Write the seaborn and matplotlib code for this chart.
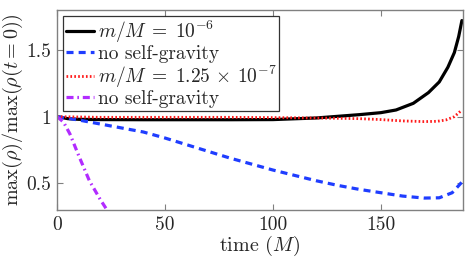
import matplotlib
matplotlib.use("Agg")
import matplotlib.pyplot as plt
import seaborn as sns
import numpy as np

# ---- data ----
t_black = [0, 5, 10, 20, 40, 60, 80, 100, 120, 140, 150, 157, 165, 172, 177, 181, 184, 186, 187.5]
v_black = [1.0, 0.985, 0.98, 0.978, 0.977, 0.977, 0.977, 0.978, 0.99, 1.015, 1.03, 1.05, 1.10, 1.18, 1.26, 1.37, 1.48, 1.60, 1.72]

t_blue = [0, 10, 20, 30, 40, 50, 60, 70, 80, 90, 100, 110, 120, 130, 140, 150, 160, 170, 177, 183, 187.5]
v_blue = [1.0, 0.975, 0.945, 0.915, 0.885, 0.84, 0.79, 0.74, 0.69, 0.645, 0.60, 0.56, 0.52, 0.485, 0.455, 0.43, 0.405, 0.39, 0.392, 0.43, 0.51]

t_red = [0, 20, 40, 60, 80, 100, 120, 140, 150, 160, 170, 176, 180, 184, 187.5]
v_red = [1.0, 0.995, 0.995, 0.995, 0.995, 0.993, 0.99, 0.985, 0.978, 0.968, 0.963, 0.965, 0.975, 1.0, 1.05]

t_mag = [0, 3, 6, 10, 15, 20, 24]
v_mag = [1.0, 0.96, 0.87, 0.71, 0.52, 0.38, 0.28]

labels = [r"$m/M\;=\;10^{-6}$", "no self-gravity",
          r"$m/M\;=\;1.25\,\times\,10^{-7}$", "no self-gravity"]
xticks = [0, 50, 100, 150]
yticks = [0.5, 1.0, 1.5]
yticklabels = ["0.5", "1", "1.5"]

# ---- style ----
sns.set_style("white")
plt.rcParams["font.family"] = ["serif"]
plt.rcParams["font.serif"] = ["cmr10", "DejaVu Serif"]
plt.rcParams["mathtext.fontset"] = "cm"
plt.rcParams["axes.unicode_minus"] = False
plt.rcParams["axes.formatter.use_mathtext"] = True

fig = plt.figure(figsize=(4.71, 2.60), dpi=100)
ax = fig.add_axes([0.121, 0.192, 0.862, 0.770])

sns.lineplot(x=t_black, y=v_black, ax=ax, color="black", lw=2.3, label=labels[0])
sns.lineplot(x=t_blue, y=v_blue, ax=ax, color="#1f3dff", lw=2.3, linestyle=(0, (2.2, 1.6)), label=labels[1])
sns.lineplot(x=t_red, y=v_red, ax=ax, color="#ff1a1a", lw=2.0, linestyle=(0, (0.6, 0.8)), label=labels[2])
sns.lineplot(x=t_mag, y=v_mag, ax=ax, color="#b22cff", lw=2.3, linestyle=(0, (2.2, 1.2, 0.5, 1.2)), label=labels[3])

ax.set_xlim(0, 188)
ax.set_ylim(0.3, 1.8)
ax.set_xticks(xticks)
ax.set_xticklabels([str(x) for x in xticks])
ax.set_yticks(yticks)
ax.set_yticklabels(yticklabels)
ax.tick_params(direction="in", length=4, width=0.8, color="#808080",
               labelsize=14, top=True, right=True, bottom=True, left=True, pad=4)
for s in ax.spines.values():
    s.set_color("#808080")
    s.set_linewidth(1.0)
    s.set_visible(True)

ax.set_xlabel(r"time $(M)$", fontsize=14.5, labelpad=0)
ax.set_ylabel(r"$\max(\rho)/\max(\rho(t = 0))$", fontsize=14.5, labelpad=1)

leg = ax.legend(loc="upper left", fontsize=14, frameon=True, fancybox=False,
                handlelength=1.45, handletextpad=0.2, labelspacing=0.02,
                borderpad=0.15, borderaxespad=0.3)
leg.get_frame().set_edgecolor("black")
leg.get_frame().set_linewidth(0.9)

fig.savefig("out.png", dpi=100)
